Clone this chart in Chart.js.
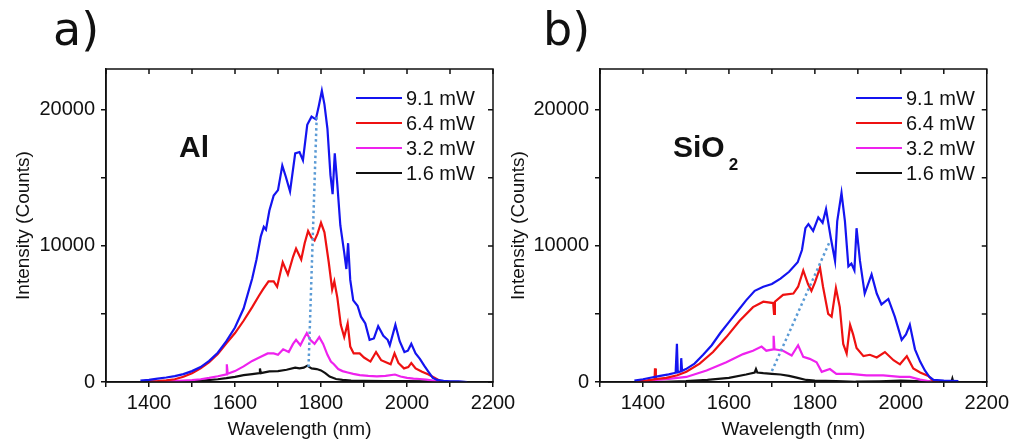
<!DOCTYPE html>
<html>
<head>
<meta charset="utf-8">
<script src="https://cdn.jsdelivr.net/npm/chart.js@4.4.1/dist/chart.umd.min.js"></script>
<style>
  html, body { margin: 0; padding: 0; background: #fff; }
  #wrap { position: relative; width: 1013px; height: 442px; overflow: hidden; }
  canvas { position: absolute; top: 0; }
  #cA { left: 0; width: 520px; height: 442px; }
  #cB { left: 495px; width: 518px; height: 442px; }
</style>
</head>
<body>
<div id="wrap">
  <canvas id="cA" width="520" height="442"></canvas>
  <canvas id="cB" width="518" height="442"></canvas>
</div>
<script>
// pump powers (legend labels)
var powers = ['9.1 mW', '6.4 mW', '3.2 mW', '1.6 mW'];
var xTicks = [1400, 1600, 1800, 2000, 2200];
var yTicks = [0, 10000, 20000];
var xMinor = [1300, 1400, 1500, 1600, 1700, 1800, 1900, 2000, 2100, 2200];
var yMinor = [0, 5000, 10000, 15000, 20000];

// panel a) : Al substrate, [wavelength nm, counts]
var al91 = [[1380,100],[1400,150],[1420,250],[1440,330],[1460,430],[1480,580],[1500,800],[1520,1100],[1540,1550],[1560,2150],[1580,3000],[1600,4000],[1620,5400],[1640,7600],[1650,9000],[1660,10700],[1667,11400],[1672,11200],[1680,12600],[1690,13700],[1700,14100],[1710,15900],[1718,15100],[1728,14000],[1740,16800],[1750,16900],[1758,16300],[1768,18900],[1778,19500],[1788,19300],[1795,20300],[1802,21400],[1808,20400],[1815,18600],[1822,15200],[1827,13800],[1832,16800],[1838,14500],[1845,11500],[1854,9500],[1859,8300],[1863,10200],[1868,7500],[1875,6000],[1885,5600],[1893,4800],[1903,4300],[1913,3100],[1923,3200],[1933,4100],[1945,3400],[1955,3100],[1960,2700],[1973,4200],[1983,3000],[1994,2200],[2002,2300],[2010,2800],[2020,2100],[2030,1700],[2040,1200],[2050,750],[2060,300],[2070,150],[2085,80],[2100,50],[2120,40],[2140,0]];
var al64 = [[1400,40],[1420,70],[1440,120],[1460,200],[1480,380],[1500,650],[1520,1000],[1540,1450],[1560,2050],[1580,2850],[1600,3600],[1620,4500],[1640,5500],[1655,6300],[1665,6800],[1678,7400],[1690,7400],[1698,7000],[1711,8800],[1723,7900],[1735,9200],[1742,9800],[1754,9000],[1762,10200],[1770,11100],[1778,10600],[1785,10400],[1792,10900],[1800,11700],[1808,11000],[1818,8800],[1826,6800],[1831,7400],[1838,6200],[1846,4200],[1854,3300],[1862,4300],[1868,2600],[1876,2100],[1890,2100],[1900,1800],[1915,1500],[1928,2200],[1940,1600],[1955,1400],[1962,1300],[1971,2100],[1980,1400],[1993,1000],[2003,1100],[2010,1400],[2020,1000],[2035,750],[2050,550],[2065,300],[2078,60],[2090,20],[2100,0]];
var al32 = [[1400,20],[1440,40],[1480,100],[1500,140],[1520,200],[1540,300],[1560,420],[1580,560],[1581,1300],[1583,600],[1600,800],[1620,1150],[1640,1550],[1660,1850],[1676,2100],[1690,2100],[1700,2000],[1712,2400],[1725,2200],[1735,2800],[1742,3100],[1752,2700],[1760,3200],[1767,3600],[1775,3100],[1785,2800],[1796,3300],[1805,2800],[1815,2000],[1823,1500],[1830,1300],[1840,950],[1850,800],[1862,700],[1875,600],[1890,500],[1910,450],[1930,420],[1950,450],[1972,550],[1985,400],[2000,300],[2015,250],[2030,220],[2045,180],[2060,100],[2080,50],[2100,20]];
var al16 = [[1380,0],[1420,20],[1460,40],[1500,60],[1530,120],[1560,200],[1580,280],[1600,380],[1620,500],[1640,580],[1657,650],[1658,1000],[1660,650],[1680,780],[1700,800],[1720,900],[1740,1050],[1750,1000],[1760,1050],[1768,1200],[1778,1000],[1790,950],[1800,850],[1810,650],[1820,400],[1835,220],[1850,150],[1870,100],[1900,80],[1950,60],[2000,70],[2050,50],[2100,20],[2140,0]];
var alPeak = [[1771,1100],[1790,19500]];

// panel b) : SiO2 substrate
var si91 = [[1380,100],[1400,200],[1420,330],[1440,450],[1460,560],[1476,680],[1479,2800],[1481,720],[1488,780],[1489,1750],[1491,820],[1500,950],[1520,1350],[1540,2000],[1560,2700],[1580,3600],[1600,4400],[1620,5200],[1640,6000],[1660,6700],[1680,7000],[1700,7200],[1720,7600],[1740,8100],[1760,8800],[1770,9700],[1778,11300],[1785,11600],[1796,11100],[1808,12100],[1818,11700],[1826,12700],[1837,10600],[1847,8900],[1852,11800],[1862,13900],[1870,11800],[1878,8500],[1885,8700],[1892,8200],[1897,11300],[1905,8900],[1916,6500],[1932,7900],[1944,6500],[1955,5700],[1971,6100],[1986,4800],[2002,3100],[2012,3500],[2021,4200],[2033,2400],[2045,1500],[2056,850],[2066,400],[2076,150],[2100,100],[2134,60]];
var si64 = [[1384,60],[1410,120],[1427,200],[1428,1000],[1430,220],[1454,300],[1480,500],[1501,750],[1532,1350],[1563,2200],[1594,3300],[1625,4500],[1656,5500],[1680,5900],[1703,5800],[1705,5000],[1707,5900],[1726,6400],[1750,6500],[1761,7000],[1773,8200],[1784,7200],[1792,6700],[1800,7300],[1812,8400],[1819,7000],[1831,5000],[1839,4800],[1849,6900],[1858,5500],[1866,2800],[1874,2100],[1882,4200],[1889,3500],[1897,2500],[1913,1900],[1928,2000],[1944,1800],[1963,2200],[1983,1600],[1998,1300],[2014,1900],[2029,1000],[2045,700],[2064,450],[2076,60],[2090,20]];
var si32 = [[1400,50],[1416,120],[1460,230],[1501,370],[1548,850],[1594,1450],[1633,2050],[1656,2300],[1676,2600],[1687,2300],[1703,2400],[1704,3400],[1706,2400],[1726,2300],[1746,1950],[1761,2700],[1773,1850],[1788,1700],[1804,1450],[1816,750],[1835,950],[1850,600],[1882,600],[1920,480],[1959,480],[1998,370],[2021,370],[2045,170],[2076,0]];
var si16 = [[1380,0],[1450,20],[1500,60],[1550,150],[1600,300],[1640,550],[1660,700],[1663,950],[1666,700],[1680,650],[1700,600],[1720,550],[1740,450],[1760,300],[1780,150],[1800,100],[1850,60],[1893,20],[1895,-300],[1897,30],[1950,50],[2000,100],[2050,50],[2100,20],[2118,30],[2120,250],[2122,20],[2140,0]];
var siPeak = [[1700,800],[1833,10200]];

var lineColors = ['#1414f0', '#ee1111', '#ee22ee', '#111111'];
var FONT = "'Liberation Sans', Arial, sans-serif";

function toXY(pts) {
    return pts.map(function (p) { return {x: p[0], y: p[1]}; });
}

function fixedTicks(values) {
    return function (scale) {
        scale.ticks = values.map(function (v) { return {value: v}; });
    };
}

// frame with inward ticks, inset legend, panel tag and sample label
var decor = {
    id: 'decor',
    afterDatasetsDraw: function (chart, args, opts) {
        var ctx = chart.ctx, a = chart.chartArea;
        var xs = chart.scales.x, ys = chart.scales.y;
        ctx.save();
        ctx.strokeStyle = '#111';
        ctx.lineWidth = 1.5;
        ctx.strokeRect(a.left, a.top, a.right - a.left, a.bottom - a.top);
        ctx.beginPath();
        xs.ticks.forEach(function (t) {
            var px = xs.getPixelForValue(t.value);
            ctx.moveTo(px, a.top);
            ctx.lineTo(px, a.top + 5);
        });
        ys.ticks.forEach(function (t) {
            var py = ys.getPixelForValue(t.value);
            ctx.moveTo(a.right, py);
            ctx.lineTo(a.right - 5, py);
        });
        ctx.stroke();

        // legend
        ctx.font = '20px ' + FONT;
        ctx.textBaseline = 'middle';
        ctx.textAlign = 'left';
        chart.data.datasets.forEach(function (ds, i) {
            if (!ds.label) return;
            var y = a.top + 29 + i * 25;
            var x0 = a.left + opts.legendX;
            ctx.strokeStyle = ds.borderColor;
            ctx.lineWidth = 2;
            ctx.beginPath();
            ctx.moveTo(x0, y);
            ctx.lineTo(x0 + 46, y);
            ctx.stroke();
            ctx.fillStyle = '#111';
            ctx.fillText(ds.label, x0 + 50, y + 1);
        });

        // sample label
        ctx.textBaseline = 'alphabetic';
        ctx.fillStyle = '#111';
        ctx.font = 'bold 30px ' + FONT;
        ctx.fillText(opts.note, a.left + 73, a.top + 88);
        if (opts.sub) {
            var w = ctx.measureText(opts.note).width;
            ctx.font = 'bold 17px ' + FONT;
            ctx.fillText(opts.sub, a.left + 73 + w + 4, a.top + 101);
        }

        // panel tag
        ctx.font = "46px 'DejaVu Sans', sans-serif";
        ctx.fillText(opts.tag, opts.tagX, 45);
        ctx.restore();
    }
};

function makePanel(id, series, peak, opts) {
    var datasets = series.map(function (s, i) {
        return {
            label: powers[i],
            data: toXY(s),
            borderColor: lineColors[i],
            borderWidth: 2.2,
            pointRadius: 0,
            tension: 0
        };
    });
    datasets.push({
        label: '',
        data: toXY(peak),
        borderColor: '#5b9bd5',
        borderWidth: 2.5,
        borderDash: [2.5, 3],
        pointRadius: 0,
        order: -1
    });

    return new Chart(document.getElementById(id).getContext('2d'), {
        type: 'line',
        data: {datasets: datasets},
        plugins: [decor],
        options: {
            responsive: false,
            animation: false,
            devicePixelRatio: 1,
            layout: {padding: {top: 69, right: opts.padRight, bottom: 0, left: 0}},
            plugins: {
                legend: {display: false},
                tooltip: {enabled: false},
                decor: opts
            },
            scales: {
                x: {
                    type: 'linear',
                    min: 1300,
                    max: 2200,
                    afterBuildTicks: fixedTicks(xMinor),
                    afterFit: function (s) { s.height = 60; },
                    border: {display: true, color: '#111', width: 1.5},
                    grid: {drawOnChartArea: false, drawTicks: true, tickLength: 5, color: '#111', lineWidth: 1.5},
                    ticks: {
                        autoSkip: false,
                        maxRotation: 0,
                        padding: 4,
                        color: '#111',
                        font: {family: FONT, size: 20},
                        callback: function (v) { return xTicks.indexOf(v) >= 0 ? String(v) : ''; }
                    },
                    title: {display: true, text: 'Wavelength (nm)', color: '#111', font: {family: FONT, size: 19}, padding: {top: 0, bottom: 1}}
                },
                y: {
                    min: 0,
                    max: 23000,
                    afterBuildTicks: fixedTicks(yMinor),
                    afterFit: function (s) { s.width = opts.yWidth; },
                    border: {display: true, color: '#111', width: 1.5},
                    grid: {drawOnChartArea: false, drawTicks: true, tickLength: 5, color: '#111', lineWidth: 1.5},
                    ticks: {
                        autoSkip: false,
                        padding: 6,
                        color: '#111',
                        font: {family: FONT, size: 20},
                        callback: function (v) { return yTicks.indexOf(v) >= 0 ? String(v) : ''; }
                    },
                    title: {display: true, text: 'Intensity (Counts)', color: '#111', font: {family: FONT, size: 19}, padding: {top: 12, bottom: 0}}
                }
            }
        }
    });
}

makePanel('cA', [al91, al64, al32, al16], alPeak,
    {tag: 'a)', tagX: 53, note: 'Al', sub: '', legendX: 250, padRight: 27, yWidth: 106});
makePanel('cB', [si91, si64, si32, si16], siPeak,
    {tag: 'b)', tagX: 48, note: 'SiO', sub: '2', legendX: 256, padRight: 25, yWidth: 105});
</script>
</body>
</html>
